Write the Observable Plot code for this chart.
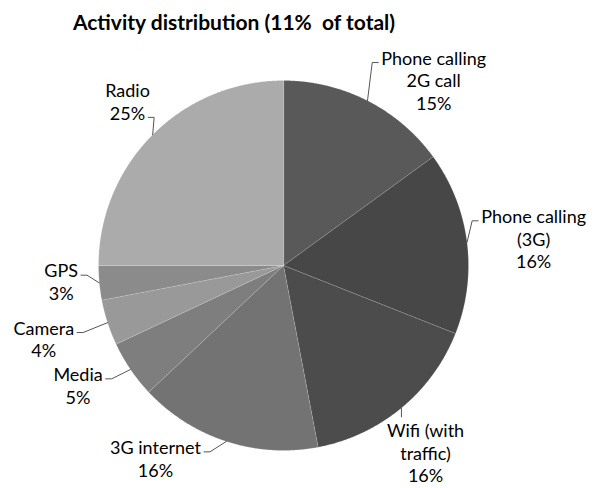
<!DOCTYPE html>
<html><head><meta charset="utf-8">
<script src="https://cdn.jsdelivr.net/npm/d3@7"></script>
<script src="https://cdn.jsdelivr.net/npm/@observablehq/plot@0.6"></script>
<style>
body{margin:0;background:#fff;}
#title{width:468px;height:44px;line-height:44px;text-align:center;font-family:Lato;font-weight:bold;font-size:21px;color:#000;white-space:pre;}
</style></head><body>
<div id="title"></div>
<div id="chart"></div>
<script>
// ---- data ----
const chartTitle = "Activity distribution (11%  of total)";
const categories = ["Phone calling\n2G call", "Phone calling\n(3G)", "Wifi (with\ntraffic)", "3G internet", "Media", "Camera", "GPS", "Radio"];
const shares = [15, 16, 16, 16, 5, 4, 3, 25];
// ---- styles / layout ----
const sliceColors = ["#595959", "#474747", "#4c4c4c", "#737373", "#7e7e7e", "#999999", "#8b8b8b", "#ababab"];
const labelShiftDeg = [12, 1, 2.4, 15.6, 4, 1, 1.3, 1.5];       // nudge of label angle from slice middle
const labelDist = [1.29, 1.36, 1.27, 1.25, 1.285, 1.355, 1.205, 1.225]; // label distance in radii

document.getElementById("title").textContent = chartTitle;

const W = 601, H = 444, mL = 98, mR = 133, mT = 36, mB = 38;
const Rpx = (W - mL - mR) / 2;
const fontSize = 18, lineH = 22.5;

const pie = d3.pie().sort(null).value(d => d.share);
const rows = categories.map((c, i) => ({category: c, share: shares[i], label: c + "\n" + shares[i] + "%"}));
const arcs = pie(rows);

const slices = arcs.map(a => {
  const n = Math.max(2, Math.ceil((a.endAngle - a.startAngle) / 0.005));
  const ring = [[0, 0]];
  for (let k = 0; k <= n; ++k) {
    const t = a.startAngle + (a.endAngle - a.startAngle) * k / n;
    ring.push([Math.sin(t), -Math.cos(t)]);
  }
  ring.push([0, 0]);
  return {type: "Feature", properties: {category: a.data.category}, geometry: {type: "Polygon", coordinates: [ring]}};
});

const ctx = document.createElement("canvas").getContext("2d");
ctx.font = `${fontSize}px Lato`;
const u = px => px / Rpx;

const labels = [], leaders = [];
arcs.forEach((a, i) => {
  const mid = (a.startAngle + a.endAngle) / 2;
  const ang = mid + labelShiftDeg[i] * Math.PI / 180;
  const cx = labelDist[i] * Math.sin(ang), cy = -labelDist[i] * Math.cos(ang);
  labels.push({x: cx, y: cy, text: a.data.label});
  const lines = a.data.label.split("\n");
  const widths = lines.map(l => u(ctx.measureText(l).width));
  const w = Math.max(...widths);
  const n = lines.length;
  const top = cy - n / 2 * u(lineH), bottom = cy + n / 2 * u(lineH);
  const firstY = cy - (n - 1) / 2 * u(lineH), lastY = cy + (n - 1) / 2 * u(lineH);
  const ex = Math.sin(mid), ey = -Math.cos(mid);
  const pts = [[ex, ey]];
  if (Math.abs(ex - cx) < w / 2) {
    const ay = cy > ey ? top - u(2) : bottom + u(2);
    pts.push([ex, ay]);
  } else {
    const useLast = ey > bottom;
    const lw = useLast ? widths[n - 1] : widths[0];
    const ay = (useLast ? lastY : firstY) + u(5);
    const dir = cx > ex ? -1 : 1;
    const ax = cx + dir * (lw / 2 + u(3));
    pts.push([ax + dir * u(6), ay], [ax, ay]);
  }
  pts.forEach(p => leaders.push({key: i, x: p[0], y: p[1]}));
});

const chart = Plot.plot({
  width: W, height: H,
  marginLeft: mL, marginRight: mR, marginTop: mT, marginBottom: mB,
  projection: {type: "identity", domain: {type: "MultiPoint", coordinates: [[-1, -1], [1, 1]]}, clip: false},
  color: {domain: categories, range: sliceColors},
  style: {background: "#fff", fontFamily: "Lato", overflow: "visible"},
  marks: [
    Plot.geo(slices, {fill: d => d.properties.category, stroke: "#fff", strokeOpacity: 0.2, strokeWidth: 0.8}),
    Plot.line(leaders, {x: "x", y: "y", z: "key", stroke: "#555", strokeWidth: 1, curve: "linear"}),
    Plot.text(labels, {x: "x", y: "y", text: "text", fontSize: fontSize, lineHeight: lineH / fontSize, fill: "#000", fontFamily: "Lato"})
  ]
});
document.getElementById("chart").appendChild(chart);
</script>
</body></html>
